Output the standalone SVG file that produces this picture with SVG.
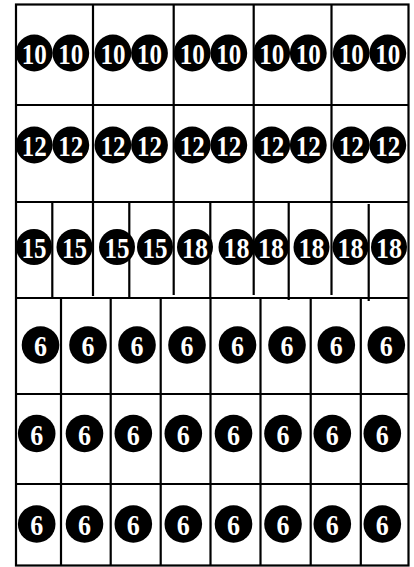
<svg xmlns="http://www.w3.org/2000/svg" width="414" height="567" viewBox="0 0 414 567">
<style>
.ln{stroke:#000;stroke-width:2.2;fill:none}
.c{fill:#000}
.t{fill:#fff;font-family:"Liberation Serif","Times New Roman",serif;font-weight:bold;font-size:30px;text-anchor:middle}
</style>
<rect width="414" height="567" fill="#fff"/>
<g id="connectors">
<rect class="ln" x="16" y="4.5" width="392.5" height="561"/>
<line class="ln" x1="16" y1="105" x2="408.5" y2="105"/>
<line class="ln" x1="16" y1="202" x2="408.5" y2="202"/>
<line class="ln" x1="16" y1="298" x2="408.5" y2="298"/>
<line class="ln" x1="16" y1="394" x2="408.5" y2="394"/>
<line class="ln" x1="16" y1="484" x2="408.5" y2="484"/>
<line class="ln" x1="93" y1="4.5" x2="93" y2="296"/>
<line class="ln" x1="173.7" y1="4.5" x2="173.7" y2="295"/>
<line class="ln" x1="253.7" y1="4.5" x2="253.7" y2="295"/>
<line class="ln" x1="331.5" y1="4.5" x2="331.5" y2="295"/>
<line class="ln" x1="52.3" y1="202" x2="52.3" y2="298"/>
<line class="ln" x1="129.3" y1="203" x2="129.3" y2="298"/>
<line class="ln" x1="210.3" y1="202" x2="210.3" y2="298"/>
<line class="ln" x1="288.7" y1="203" x2="288.7" y2="300"/>
<line class="ln" x1="368.7" y1="204" x2="368.7" y2="301"/>
<line class="ln" x1="61" y1="298" x2="61" y2="565.5"/>
<line class="ln" x1="110.7" y1="298" x2="110.7" y2="565.5"/>
<line class="ln" x1="160.7" y1="298" x2="160.7" y2="565.5"/>
<line class="ln" x1="210.5" y1="298" x2="210.5" y2="565.5"/>
<line class="ln" x1="260.5" y1="298" x2="260.5" y2="565.5"/>
<line class="ln" x1="310.7" y1="298" x2="310.7" y2="565.5"/>
<line class="ln" x1="360.8" y1="298" x2="360.8" y2="565.5"/>
</g>
<g id="row1">
<g id="n1a"><circle class="c" cx="34.2" cy="53" r="18.4"/><text class="t" x="34.2" y="63.5" textLength="25" lengthAdjust="spacingAndGlyphs">10</text><circle class="c" cx="70.8" cy="53" r="18.4"/><text class="t" x="70.8" y="63.5" textLength="25" lengthAdjust="spacingAndGlyphs">10</text></g>
<g id="n1b"><circle class="c" cx="112.9" cy="53" r="18.4"/><text class="t" x="112.9" y="63.5" textLength="25" lengthAdjust="spacingAndGlyphs">10</text><circle class="c" cx="149.5" cy="53" r="18.4"/><text class="t" x="149.5" y="63.5" textLength="25" lengthAdjust="spacingAndGlyphs">10</text></g>
<g id="n1c"><circle class="c" cx="192.2" cy="53" r="18.4"/><text class="t" x="192.2" y="63.5" textLength="25" lengthAdjust="spacingAndGlyphs">10</text><circle class="c" cx="228.8" cy="53" r="18.4"/><text class="t" x="228.8" y="63.5" textLength="25" lengthAdjust="spacingAndGlyphs">10</text></g>
<g id="n1d"><circle class="c" cx="271.7" cy="53" r="18.4"/><text class="t" x="271.7" y="63.5" textLength="25" lengthAdjust="spacingAndGlyphs">10</text><circle class="c" cx="308.3" cy="53" r="18.4"/><text class="t" x="308.3" y="63.5" textLength="25" lengthAdjust="spacingAndGlyphs">10</text></g>
<g id="n1e"><circle class="c" cx="351.2" cy="53" r="18.4"/><text class="t" x="351.2" y="63.5" textLength="25" lengthAdjust="spacingAndGlyphs">10</text><circle class="c" cx="387.8" cy="53" r="18.4"/><text class="t" x="387.8" y="63.5" textLength="25" lengthAdjust="spacingAndGlyphs">10</text></g>
</g>
<g id="row2">
<g id="n2a"><circle class="c" cx="34.2" cy="145" r="18.4"/><text class="t" x="34.2" y="155.5" textLength="25" lengthAdjust="spacingAndGlyphs">12</text><circle class="c" cx="70.8" cy="145" r="18.4"/><text class="t" x="70.8" y="155.5" textLength="25" lengthAdjust="spacingAndGlyphs">12</text></g>
<g id="n2b"><circle class="c" cx="112.9" cy="145" r="18.4"/><text class="t" x="112.9" y="155.5" textLength="25" lengthAdjust="spacingAndGlyphs">12</text><circle class="c" cx="149.5" cy="145" r="18.4"/><text class="t" x="149.5" y="155.5" textLength="25" lengthAdjust="spacingAndGlyphs">12</text></g>
<g id="n2c"><circle class="c" cx="192.2" cy="145" r="18.4"/><text class="t" x="192.2" y="155.5" textLength="25" lengthAdjust="spacingAndGlyphs">12</text><circle class="c" cx="228.8" cy="145" r="18.4"/><text class="t" x="228.8" y="155.5" textLength="25" lengthAdjust="spacingAndGlyphs">12</text></g>
<g id="n2d"><circle class="c" cx="271.7" cy="145" r="18.4"/><text class="t" x="271.7" y="155.5" textLength="25" lengthAdjust="spacingAndGlyphs">12</text><circle class="c" cx="308.3" cy="145" r="18.4"/><text class="t" x="308.3" y="155.5" textLength="25" lengthAdjust="spacingAndGlyphs">12</text></g>
<g id="n2e"><circle class="c" cx="351.2" cy="145" r="18.4"/><text class="t" x="351.2" y="155.5" textLength="25" lengthAdjust="spacingAndGlyphs">12</text><circle class="c" cx="387.8" cy="145" r="18.4"/><text class="t" x="387.8" y="155.5" textLength="25" lengthAdjust="spacingAndGlyphs">12</text></g>
</g>
<g id="row3">
<g id="n3a"><circle class="c" cx="34" cy="247" r="18"/><text class="t" x="34" y="257.5" textLength="25" lengthAdjust="spacingAndGlyphs">15</text></g>
<g id="n3b"><circle class="c" cx="74.5" cy="247" r="18"/><text class="t" x="74.5" y="257.5" textLength="25" lengthAdjust="spacingAndGlyphs">15</text></g>
<g id="n3c"><circle class="c" cx="117" cy="247" r="18"/><text class="t" x="117" y="257.5" textLength="25" lengthAdjust="spacingAndGlyphs">15</text></g>
<g id="n3d"><circle class="c" cx="155" cy="247" r="18"/><text class="t" x="155" y="257.5" textLength="25" lengthAdjust="spacingAndGlyphs">15</text></g>
<g id="n3e"><circle class="c" cx="195" cy="247" r="18"/><text class="t" x="195" y="257.5" textLength="26" lengthAdjust="spacingAndGlyphs">18</text></g>
<g id="n3f"><circle class="c" cx="236.5" cy="247" r="18"/><text class="t" x="236.5" y="257.5" textLength="26" lengthAdjust="spacingAndGlyphs">18</text></g>
<g id="n3g"><circle class="c" cx="271" cy="247" r="18"/><text class="t" x="271" y="257.5" textLength="26" lengthAdjust="spacingAndGlyphs">18</text></g>
<g id="n3h"><circle class="c" cx="311.5" cy="247" r="18"/><text class="t" x="311.5" y="257.5" textLength="26" lengthAdjust="spacingAndGlyphs">18</text></g>
<g id="n3i"><circle class="c" cx="350.5" cy="247" r="18"/><text class="t" x="350.5" y="257.5" textLength="26" lengthAdjust="spacingAndGlyphs">18</text></g>
<g id="n3j"><circle class="c" cx="389" cy="247" r="18"/><text class="t" x="389" y="257.5" textLength="26" lengthAdjust="spacingAndGlyphs">18</text></g>
</g>
<g id="row4">
<g id="n4a"><circle class="c" cx="40.5" cy="345" r="18.8"/><text class="t" x="40.5" y="356" textLength="13" lengthAdjust="spacingAndGlyphs">6</text></g>
<g id="n4b"><circle class="c" cx="88" cy="345" r="18.8"/><text class="t" x="88" y="356" textLength="13" lengthAdjust="spacingAndGlyphs">6</text></g>
<g id="n4c"><circle class="c" cx="137" cy="345" r="18.8"/><text class="t" x="137" y="356" textLength="13" lengthAdjust="spacingAndGlyphs">6</text></g>
<g id="n4d"><circle class="c" cx="187" cy="345" r="18.8"/><text class="t" x="187" y="356" textLength="13" lengthAdjust="spacingAndGlyphs">6</text></g>
<g id="n4e"><circle class="c" cx="237.5" cy="345" r="18.8"/><text class="t" x="237.5" y="356" textLength="13" lengthAdjust="spacingAndGlyphs">6</text></g>
<g id="n4f"><circle class="c" cx="287" cy="345" r="18.8"/><text class="t" x="287" y="356" textLength="13" lengthAdjust="spacingAndGlyphs">6</text></g>
<g id="n4g"><circle class="c" cx="336.3" cy="345" r="18.8"/><text class="t" x="336.3" y="356" textLength="13" lengthAdjust="spacingAndGlyphs">6</text></g>
<g id="n4h"><circle class="c" cx="386.3" cy="345" r="18.8"/><text class="t" x="386.3" y="356" textLength="13" lengthAdjust="spacingAndGlyphs">6</text></g>
</g>
<g id="row5">
<g id="n5a"><circle class="c" cx="36.7" cy="433.5" r="18.8"/><text class="t" x="36.7" y="444.5" textLength="13" lengthAdjust="spacingAndGlyphs">6</text></g>
<g id="n5b"><circle class="c" cx="84.5" cy="433.5" r="18.8"/><text class="t" x="84.5" y="444.5" textLength="13" lengthAdjust="spacingAndGlyphs">6</text></g>
<g id="n5c"><circle class="c" cx="133.3" cy="433.5" r="18.8"/><text class="t" x="133.3" y="444.5" textLength="13" lengthAdjust="spacingAndGlyphs">6</text></g>
<g id="n5d"><circle class="c" cx="183.3" cy="433.5" r="18.8"/><text class="t" x="183.3" y="444.5" textLength="13" lengthAdjust="spacingAndGlyphs">6</text></g>
<g id="n5e"><circle class="c" cx="233.5" cy="433.5" r="18.8"/><text class="t" x="233.5" y="444.5" textLength="13" lengthAdjust="spacingAndGlyphs">6</text></g>
<g id="n5f"><circle class="c" cx="283" cy="433.5" r="18.8"/><text class="t" x="283" y="444.5" textLength="13" lengthAdjust="spacingAndGlyphs">6</text></g>
<g id="n5g"><circle class="c" cx="332.3" cy="433.5" r="18.8"/><text class="t" x="332.3" y="444.5" textLength="13" lengthAdjust="spacingAndGlyphs">6</text></g>
<g id="n5h"><circle class="c" cx="382.3" cy="433.5" r="18.8"/><text class="t" x="382.3" y="444.5" textLength="13" lengthAdjust="spacingAndGlyphs">6</text></g>
</g>
<g id="row6">
<g id="n6a"><circle class="c" cx="36.7" cy="524" r="18.8"/><text class="t" x="36.7" y="535" textLength="13" lengthAdjust="spacingAndGlyphs">6</text></g>
<g id="n6b"><circle class="c" cx="84.5" cy="524" r="18.8"/><text class="t" x="84.5" y="535" textLength="13" lengthAdjust="spacingAndGlyphs">6</text></g>
<g id="n6c"><circle class="c" cx="133.3" cy="524" r="18.8"/><text class="t" x="133.3" y="535" textLength="13" lengthAdjust="spacingAndGlyphs">6</text></g>
<g id="n6d"><circle class="c" cx="183.3" cy="524" r="18.8"/><text class="t" x="183.3" y="535" textLength="13" lengthAdjust="spacingAndGlyphs">6</text></g>
<g id="n6e"><circle class="c" cx="233.5" cy="524" r="18.8"/><text class="t" x="233.5" y="535" textLength="13" lengthAdjust="spacingAndGlyphs">6</text></g>
<g id="n6f"><circle class="c" cx="283" cy="524" r="18.8"/><text class="t" x="283" y="535" textLength="13" lengthAdjust="spacingAndGlyphs">6</text></g>
<g id="n6g"><circle class="c" cx="332.3" cy="524" r="18.8"/><text class="t" x="332.3" y="535" textLength="13" lengthAdjust="spacingAndGlyphs">6</text></g>
<g id="n6h"><circle class="c" cx="382.3" cy="524" r="18.8"/><text class="t" x="382.3" y="535" textLength="13" lengthAdjust="spacingAndGlyphs">6</text></g>
</g>
</svg>
